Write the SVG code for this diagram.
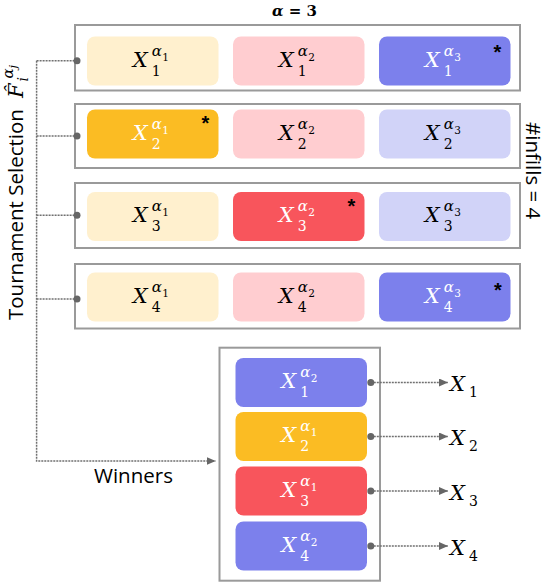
<svg xmlns="http://www.w3.org/2000/svg" width="546" height="582" viewBox="0 0 546 582">
<style>
.box{fill:#fff;stroke:#9a9a9a;stroke-width:2}
.cell{stroke:none}
.y{fill:#FFF0CE}.p{fill:#FFCDD0}.l{fill:#D1D3F8}.v{fill:#7C80EC}.o{fill:#FBBC23}.r{fill:#F8555C}
.m{font-family:"DejaVu Serif",serif;fill:#000}
.w{fill:#fff}
.X{font-style:italic;font-size:21px}
.sd{font-size:14px}
.al{font-style:italic;font-size:15px}
.ad{font-size:10.5px}
.sans{font-family:"Open Sans","Liberation Sans",sans-serif;font-size:20.5px;fill:#000}
.star{font-family:"Liberation Sans",Arial,sans-serif;font-weight:bold;font-size:20px;fill:#000;text-anchor:middle}
.con{fill:none;stroke:#707070;stroke-width:1.5;stroke-dasharray:2 1}
.dot{fill:#666}
</style>
<defs>
<marker id="ah" markerUnits="userSpaceOnUse" markerWidth="10" markerHeight="9" refX="9" refY="4" orient="auto">
<path d="M0,0 L9,4 L0,8 z" fill="#666"/>
</marker>
</defs>

<text x="272" y="16" class="m" font-weight="bold" font-size="15"><tspan font-style="italic">α</tspan> = 3</text>

<g transform="translate(23.3,320) rotate(-90)">
<text class="sans" x="0" y="0">Tournament Selection</text>
<text class="m" x="222" y="0" font-style="italic" font-size="21">F̂</text>
<text class="m" x="238.5" y="5" font-style="italic" font-size="14">i</text>
<text class="m" x="241.5" y="-10.5" font-style="italic" font-size="15">α</text>
<text class="m" x="251.5" y="-6.5" font-style="italic" font-size="11">j</text>
</g>

<g transform="translate(525.5,122) rotate(90)">
<text class="sans" x="0" y="0" font-size="19px">#infills = 4</text>
</g>

<text class="sans" x="94" y="483.3">Winners</text>

<g id="row1">
<rect class="box" x="75" y="25" width="445" height="65.5"/>
<rect class="cell y" x="87" y="36.5" width="131.5" height="49" rx="8"/>
<rect class="cell p" x="233" y="36.5" width="131.5" height="49" rx="8"/>
<rect class="cell v" x="379" y="36.5" width="131.5" height="49" rx="8"/>
<text class="m"><tspan class="X" x="132.75" y="66.7">X</tspan><tspan class="sd" x="151.75" y="75.5">1</tspan><tspan class="al" x="151.75" y="55.5">α</tspan><tspan class="ad" x="162.25" y="60.7">1</tspan></text>
<text class="m"><tspan class="X" x="278.75" y="66.7">X</tspan><tspan class="sd" x="297.75" y="75.5">1</tspan><tspan class="al" x="297.75" y="55.5">α</tspan><tspan class="ad" x="308.25" y="60.7">2</tspan></text>
<text class="m w"><tspan class="X" x="424.75" y="66.7">X</tspan><tspan class="sd" x="443.75" y="75.5">1</tspan><tspan class="al" x="443.75" y="55.5">α</tspan><tspan class="ad" x="454.25" y="60.7">3</tspan></text>
<text class="star" x="497.5" y="58.5">*</text>
</g>

<g id="row2">
<rect class="box" x="75" y="104" width="445" height="64"/>
<rect class="cell o" x="87" y="109.5" width="131.5" height="49" rx="8"/>
<rect class="cell p" x="233" y="109.5" width="131.5" height="49" rx="8"/>
<rect class="cell l" x="379" y="109.5" width="131.5" height="49" rx="8"/>
<text class="m w"><tspan class="X" x="132.75" y="139.7">X</tspan><tspan class="sd" x="151.75" y="148.5">2</tspan><tspan class="al" x="151.75" y="128.5">α</tspan><tspan class="ad" x="162.25" y="133.7">1</tspan></text>
<text class="m"><tspan class="X" x="278.75" y="139.7">X</tspan><tspan class="sd" x="297.75" y="148.5">2</tspan><tspan class="al" x="297.75" y="128.5">α</tspan><tspan class="ad" x="308.25" y="133.7">2</tspan></text>
<text class="m"><tspan class="X" x="424.75" y="139.7">X</tspan><tspan class="sd" x="443.75" y="148.5">2</tspan><tspan class="al" x="443.75" y="128.5">α</tspan><tspan class="ad" x="454.25" y="133.7">3</tspan></text>
<text class="star" x="205.5" y="130">*</text>
</g>

<g id="row3">
<rect class="box" x="75" y="183" width="445" height="65"/>
<rect class="cell y" x="87" y="192" width="131.5" height="49" rx="8"/>
<rect class="cell r" x="233" y="192" width="131.5" height="49" rx="8"/>
<rect class="cell l" x="379" y="192" width="131.5" height="49" rx="8"/>
<text class="m"><tspan class="X" x="132.75" y="222.2">X</tspan><tspan class="sd" x="151.75" y="231">3</tspan><tspan class="al" x="151.75" y="211">α</tspan><tspan class="ad" x="162.25" y="216.2">1</tspan></text>
<text class="m w"><tspan class="X" x="278.75" y="222.2">X</tspan><tspan class="sd" x="297.75" y="231">3</tspan><tspan class="al" x="297.75" y="211">α</tspan><tspan class="ad" x="308.25" y="216.2">2</tspan></text>
<text class="m"><tspan class="X" x="424.75" y="222.2">X</tspan><tspan class="sd" x="443.75" y="231">3</tspan><tspan class="al" x="443.75" y="211">α</tspan><tspan class="ad" x="454.25" y="216.2">3</tspan></text>
<text class="star" x="351.5" y="213.2">*</text>
</g>

<g id="row4">
<rect class="box" x="75" y="264" width="445" height="64.5"/>
<rect class="cell y" x="87" y="272.5" width="131.5" height="49" rx="8"/>
<rect class="cell p" x="233" y="272.5" width="131.5" height="49" rx="8"/>
<rect class="cell v" x="379" y="272.5" width="131.5" height="49" rx="8"/>
<text class="m"><tspan class="X" x="132.75" y="302.7">X</tspan><tspan class="sd" x="151.75" y="311.5">4</tspan><tspan class="al" x="151.75" y="291.5">α</tspan><tspan class="ad" x="162.25" y="296.7">1</tspan></text>
<text class="m"><tspan class="X" x="278.75" y="302.7">X</tspan><tspan class="sd" x="297.75" y="311.5">4</tspan><tspan class="al" x="297.75" y="291.5">α</tspan><tspan class="ad" x="308.25" y="296.7">2</tspan></text>
<text class="m w"><tspan class="X" x="424.75" y="302.7">X</tspan><tspan class="sd" x="443.75" y="311.5">4</tspan><tspan class="al" x="443.75" y="291.5">α</tspan><tspan class="ad" x="454.25" y="296.7">3</tspan></text>
<text class="star" x="498" y="297">*</text>
</g>

<g id="winners">
<rect class="box" x="219.5" y="347.7" width="160.5" height="233"/>
<rect class="cell v" x="235.5" y="358" width="131.5" height="49" rx="8"/>
<rect class="cell o" x="235.5" y="412" width="131.5" height="49" rx="8"/>
<rect class="cell r" x="235.5" y="466.5" width="131.5" height="49" rx="8"/>
<rect class="cell v" x="235.5" y="521.5" width="131.5" height="49" rx="8"/>
<text class="m w"><tspan class="X" x="281.25" y="388.2">X</tspan><tspan class="sd" x="300.25" y="397">1</tspan><tspan class="al" x="300.25" y="377">α</tspan><tspan class="ad" x="310.75" y="382.2">2</tspan></text>
<text class="m w"><tspan class="X" x="281.25" y="442.2">X</tspan><tspan class="sd" x="300.25" y="451">2</tspan><tspan class="al" x="300.25" y="431">α</tspan><tspan class="ad" x="310.75" y="436.2">1</tspan></text>
<text class="m w"><tspan class="X" x="281.25" y="496.7">X</tspan><tspan class="sd" x="300.25" y="505.5">3</tspan><tspan class="al" x="300.25" y="485.5">α</tspan><tspan class="ad" x="310.75" y="490.7">1</tspan></text>
<text class="m w"><tspan class="X" x="281.25" y="551.7">X</tspan><tspan class="sd" x="300.25" y="560.5">4</tspan><tspan class="al" x="300.25" y="540.5">α</tspan><tspan class="ad" x="310.75" y="545.7">2</tspan></text>
</g>

<g id="outputs">
<text class="m"><tspan class="X" x="450" y="391" font-size="23">X</tspan><tspan class="sd" x="469" y="397" font-size="15">1</tspan></text>
<text class="m"><tspan class="X" x="450" y="445" font-size="23">X</tspan><tspan class="sd" x="469" y="451" font-size="15">2</tspan></text>
<text class="m"><tspan class="X" x="450" y="499.5" font-size="23">X</tspan><tspan class="sd" x="469" y="505.5" font-size="15">3</tspan></text>
<text class="m"><tspan class="X" x="450" y="554.5" font-size="23">X</tspan><tspan class="sd" x="469" y="560.5" font-size="15">4</tspan></text>
</g>

<g id="connectors">
<path class="con" d="M36.6,60.7 V461 H215.7" marker-end="url(#ah)"/>
<path class="con" d="M36.6,60.7 H77"/>
<path class="con" d="M36.6,136 H77"/>
<path class="con" d="M36.6,215.3 H77"/>
<path class="con" d="M36.6,299 H77"/>
<circle class="dot" cx="77" cy="60.7" r="3.5"/>
<circle class="dot" cx="77" cy="136" r="3.5"/>
<circle class="dot" cx="77" cy="215.3" r="3.5"/>
<circle class="dot" cx="77" cy="299" r="3.5"/>
<path class="con" d="M370.8,382.5 H448" marker-end="url(#ah)"/>
<path class="con" d="M370.8,436.5 H448" marker-end="url(#ah)"/>
<path class="con" d="M370.8,491 H448" marker-end="url(#ah)"/>
<path class="con" d="M370.8,546 H448" marker-end="url(#ah)"/>
<circle class="dot" cx="370.8" cy="382.5" r="3.5"/>
<circle class="dot" cx="370.8" cy="436.5" r="3.5"/>
<circle class="dot" cx="370.8" cy="491" r="3.5"/>
<circle class="dot" cx="370.8" cy="546" r="3.5"/>
</g>
</svg>
